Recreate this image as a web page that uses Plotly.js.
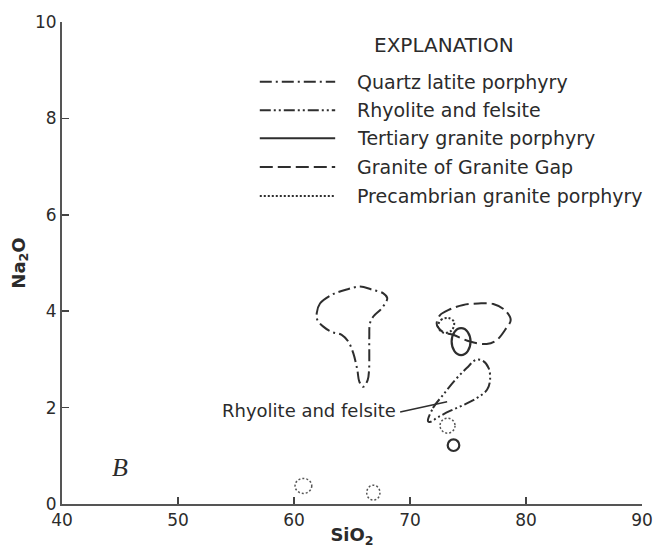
<!DOCTYPE html>
<html>
<head>
<meta charset="utf-8">
<script src="https://cdn.plot.ly/plotly-3.0.1.min.js"></script>
<style>html,body{margin:0;padding:0;background:#fff;}#chart{width:656px;height:548px;}</style>
</head>
<body>
<div id="chart"></div>
<script>
// ---- Data (SiO2 wt%, Na2O wt%) ----
// Quartz latite porphyry field outline
const qlpX = [61.96, 62.24, 63.25, 64.54, 65.69, 66.70, 67.70, 68.04, 67.56, 66.84, 66.55, 66.49, 66.49, 66.47, 66.35, 65.97, 65.63, 65.46, 65.11, 64.68, 64.11, 63.25, 62.53, 62.01, 61.96];
const qlpY = [3.96, 4.16, 4.34, 4.45, 4.51, 4.45, 4.37, 4.27, 4.06, 3.89, 3.75, 3.47, 3.13, 2.78, 2.57, 2.43, 2.54, 2.78, 3.13, 3.37, 3.51, 3.57, 3.68, 3.82, 3.96];
// Rhyolite and felsite field outline
const rfX = [71.55, 71.98, 72.84, 73.88, 74.89, 75.69, 76.29, 76.78, 76.90, 76.64, 75.78, 74.57, 73.45, 72.41, 71.72, 71.55];
const rfY = [1.72, 1.99, 2.26, 2.57, 2.82, 2.99, 2.97, 2.82, 2.57, 2.37, 2.20, 2.05, 1.93, 1.80, 1.70, 1.72];
// Granite of Granite Gap field outline
const ggX = [72.30, 72.59, 73.45, 74.59, 75.89, 77.18, 78.19, 78.68, 78.19, 77.47, 76.61, 75.17, 73.71, 72.84, 72.41, 72.30];
const ggY = [3.75, 3.92, 4.04, 4.13, 4.16, 4.15, 4.02, 3.82, 3.61, 3.40, 3.32, 3.37, 3.51, 3.57, 3.67, 3.75];
// Precambrian granite porphyry small field (inside Granite Gap field)
const pgpX = [72.41, 72.67, 73.28, 73.79, 73.62, 72.93, 72.41];
const pgpY = [3.67, 3.82, 3.86, 3.78, 3.61, 3.55, 3.67];
// Tertiary granite porphyry fields (ellipses): bounds
const tgpX0 = [73.59, 73.25];
const tgpX1 = [75.22, 74.25];
const tgpY0 = [3.09, 1.10];
const tgpY1 = [3.65, 1.34];
// Precambrian granite porphyry small fields (circles): bounds
const pgcX0 = [72.59, 60.09, 66.27];
const pgcX1 = [73.88, 61.53, 67.41];
const pgcY0 = [1.47, 0.22, 0.08];
const pgcY1 = [1.78, 0.53, 0.39];
// Leader line for the "Rhyolite and felsite" label
const leaderX = [69.15, 73.2];
const leaderY = [1.91, 2.12];

const xTicks = [40, 50, 60, 70, 80, 90];
const yTicks = [0, 2, 4, 6, 8, 10];
const legendNames = ['Quartz latite porphyry', 'Rhyolite and felsite', 'Tertiary granite porphyry', 'Granite of Granite Gap', 'Precambrian granite porphyry'];

// ---- Styles ----
const ink = '#2e2e2e';
const txt = '#2b2b2b';
const dashes = {
  qlp: '12px,4px,2px,4px',
  rf: '11px,3px,2px,3px,2px,3px',
  tgp: 'solid',
  gg: '13px,5px',
  pgp: '2px,2px'
};
const legendDash = [dashes.qlp, dashes.rf, dashes.tgp, dashes.gg, dashes.pgp];
const lw = 2;

function loop(x, y, dash, name) {
  return {
    type: 'scatter', mode: 'lines', x: x, y: y, name: name,
    line: {color: ink, width: lw, dash: dash, shape: 'spline', smoothing: 1},
    hoverinfo: 'skip', showlegend: false
  };
}

const traces = [
  loop(qlpX, qlpY, dashes.qlp, legendNames[0]),
  loop(rfX, rfY, dashes.rf, legendNames[1]),
  loop(ggX, ggY, dashes.gg, legendNames[3]),
  loop(pgpX, pgpY, dashes.pgp, legendNames[4]),
  {type: 'scatter', mode: 'lines', x: leaderX, y: leaderY, line: {color: ink, width: 1.5}, hoverinfo: 'skip', showlegend: false}
];

const shapes = [];
tgpX0.forEach((v, i) => shapes.push({type: 'circle', xref: 'x', yref: 'y', x0: v, x1: tgpX1[i], y0: tgpY0[i], y1: tgpY1[i], line: {color: ink, width: 2.2}}));
pgcX0.forEach((v, i) => shapes.push({type: 'circle', xref: 'x', yref: 'y', x0: v, x1: pgcX1[i], y0: pgcY0[i], y1: pgcY1[i], line: {color: '#555', width: 1.5, dash: dashes.pgp}}));

// Explanation (legend) block in paper coordinates
const rowY = [0.876, 0.817, 0.759, 0.699, 0.639];
const annotations = [
  {xref: 'paper', yref: 'paper', x: 0.659, y: 0.952, text: 'EXPLANATION', showarrow: false, xanchor: 'center', yanchor: 'middle', font: {family: 'DejaVu Sans', size: 20, color: txt}},
  {xref: 'x', yref: 'y', x: 68.97, y: 1.93, text: 'Rhyolite and felsite', showarrow: false, xanchor: 'right', yanchor: 'middle', font: {family: 'DejaVu Sans', size: 18, color: txt}},
  {xref: 'x', yref: 'y', x: 45.0, y: 0.76, text: '<i>B</i>', showarrow: false, xanchor: 'center', yanchor: 'middle', font: {family: 'Liberation Serif', size: 26, color: txt}}
];
legendNames.forEach((n, i) => {
  shapes.push({type: 'line', xref: 'paper', yref: 'paper', x0: 0.341, x1: 0.471, y0: rowY[i], y1: rowY[i], line: {color: ink, width: lw, dash: legendDash[i]}});
  annotations.push({xref: 'paper', yref: 'paper', x: 0.505, y: rowY[i], text: n, showarrow: false, xanchor: 'left', yanchor: 'middle', font: {family: 'DejaVu Sans', size: 19, color: txt}});
});

const axisCommon = {
  showgrid: false, zeroline: false, showline: true, linecolor: '#555', linewidth: 2,
  ticks: 'inside', ticklen: 7, tickwidth: 1.5, tickcolor: '#444',
  tickfont: {family: 'DejaVu Sans', size: 17, color: txt}
};

const layout = {
  width: 656, height: 548,
  margin: {l: 62, r: 14, t: 22, b: 44},
  paper_bgcolor: '#fff', plot_bgcolor: '#fff',
  showlegend: false,
  xaxis: Object.assign({}, axisCommon, {
    range: [40, 90], tickvals: xTicks, ticktext: xTicks.map(String),
    title: {text: '<b>SiO<sub>2</sub></b>', font: {family: 'DejaVu Sans', size: 18, color: txt}, standoff: 0}
  }),
  yaxis: Object.assign({}, axisCommon, {
    range: [0, 10], tickvals: yTicks, ticktext: yTicks.map(String),
    title: {text: '<b>Na<sub>2</sub>O</b>', font: {family: 'DejaVu Sans', size: 18, color: txt}, standoff: 5}
  }),
  shapes: shapes,
  annotations: annotations
};

Plotly.newPlot('chart', traces, layout, {staticPlot: true, displayModeBar: false});
</script>
</body>
</html>
